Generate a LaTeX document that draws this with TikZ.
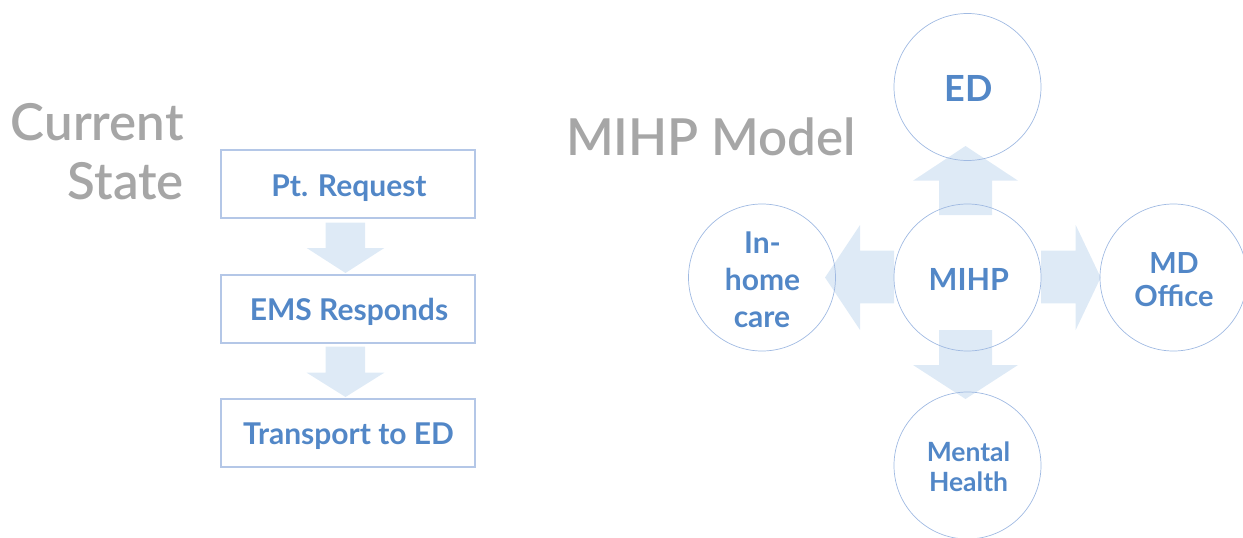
\documentclass[tikz,border=0pt]{standalone}
\usepackage{fontspec}
\setmainfont{Lato}
\IfFontExistsTF{Lato Semibold}{\newfontfamily\titlefont{Lato Semibold}}{\newfontfamily\titlefont{Lato}[UprightFont={* Bold}]}
\definecolor{txtblue}{RGB}{82,135,199}
\definecolor{boxline}{RGB}{180,199,231}
\definecolor{circline}{RGB}{160,186,226}
\definecolor{arrfill}{RGB}{222,234,246}
\definecolor{titlegray}{RGB}{166,166,166}
\tikzset{
  title/.style={text=titlegray,font=\titlefont\fontsize{51}{60}\selectfont,inner sep=0pt},
  flowbox/.style={draw=boxline,line width=1.3pt,minimum width=254pt,minimum height=68pt,inner sep=0pt},
  boxtext/.style={text=txtblue,font=\bfseries\fontsize{30}{34}\selectfont,inner sep=0pt,anchor=base},
  hub/.style={circle,draw=circline,line width=0.7pt,minimum size=147pt,inner sep=0pt},
  ctext/.style={text=txtblue,font=\bfseries\fontsize{30}{36}\selectfont,inner sep=0pt,anchor=base},
  fatarrow/.style={fill=arrfill,draw=none}
}
\begin{document}
\begin{tikzpicture}[x=1pt,y=-1pt]
\useasboundingbox (0,0) rectangle (1243,538);
% titles
\node[title,anchor=base east] (cur) at (184,140) {Current};
\node[title,anchor=base east] (sta) at (184,199) {State};
\node[title,anchor=base west] (mod) at (566,155) {MIHP Model};
% flow arrows (left)
\fill[fatarrow] (325.7,222.7) -- (325.7,248) -- (306.7,248) -- (345.5,273) -- (384.3,248) -- (365,248) -- (365,222.7) -- cycle;
\fill[fatarrow] (325.7,346.7) -- (325.7,372.7) -- (306.7,372.7) -- (345.5,397) -- (384.3,372.7) -- (365,372.7) -- (365,346.7) -- cycle;
% boxes
\node[flowbox] (b1) at (348,184) {};
\node[flowbox] (b2) at (348,309) {};
\node[flowbox] (b3) at (348,433) {};
\node[boxtext] (t1) at (349,196) {Pt. Request};
\node[boxtext] (t2) at (349,320) {EMS Responds};
\node[boxtext] (t3) at (348.5,444) {Transport to ED};
% hub arrows
\fill[fatarrow] (939,215) -- (939,180.7) -- (913,180.7) -- (965.5,146) -- (1018,180.7) -- (992,180.7) -- (992,215) -- cycle;
\fill[fatarrow] (939,330) -- (939,365) -- (913,365) -- (965.5,399) -- (1018,365) -- (992,365) -- (992,330) -- cycle;
\fill[fatarrow] (894,250.7) -- (860,250.7) -- (860,225) -- (825,277.5) -- (860,330) -- (860,303.3) -- (894,303.3) -- cycle;
\fill[fatarrow] (1041,250.7) -- (1075.7,250.7) -- (1075.7,225) -- (1100.7,277.5) -- (1075.7,330) -- (1075.7,303.3) -- (1041,303.3) -- cycle;
% circles
\node[hub] (ed) at (967.5,87) {};
\node[hub] (mihp) at (967.5,277.5) {};
\node[hub] (home) at (762,277.5) {};
\node[hub] (md) at (1173.5,277.5) {};
\node[hub] (mh) at (967.5,465.5) {};
% circle texts
\node[ctext,font=\bfseries\fontsize{36}{40}\selectfont] (edt) at (968.8,101.6) {ED};
\node[ctext,font=\bfseries\fontsize{30.5}{36}\selectfont] (mihpt) at (968.8,290) {MIHP};
\node[ctext] (h1) at (762.5,253) {In-};
\node[ctext] (h2) at (762.5,290) {home};
\node[ctext] (h3) at (762,327.5) {care};
\node[ctext,font=\bfseries\fontsize{29}{34}\selectfont] (m1) at (1174,273) {MD};
\node[ctext,font=\bfseries\fontsize{29}{34}\selectfont] (m2) at (1174,306) {Office};
\node[ctext,font=\bfseries\fontsize{26.5}{30}\selectfont] (mh1) at (968.5,461.6) {Mental};
\node[ctext,font=\bfseries\fontsize{26.5}{30}\selectfont] (mh2) at (968.5,491.4) {Health};
\end{tikzpicture}
\end{document}
